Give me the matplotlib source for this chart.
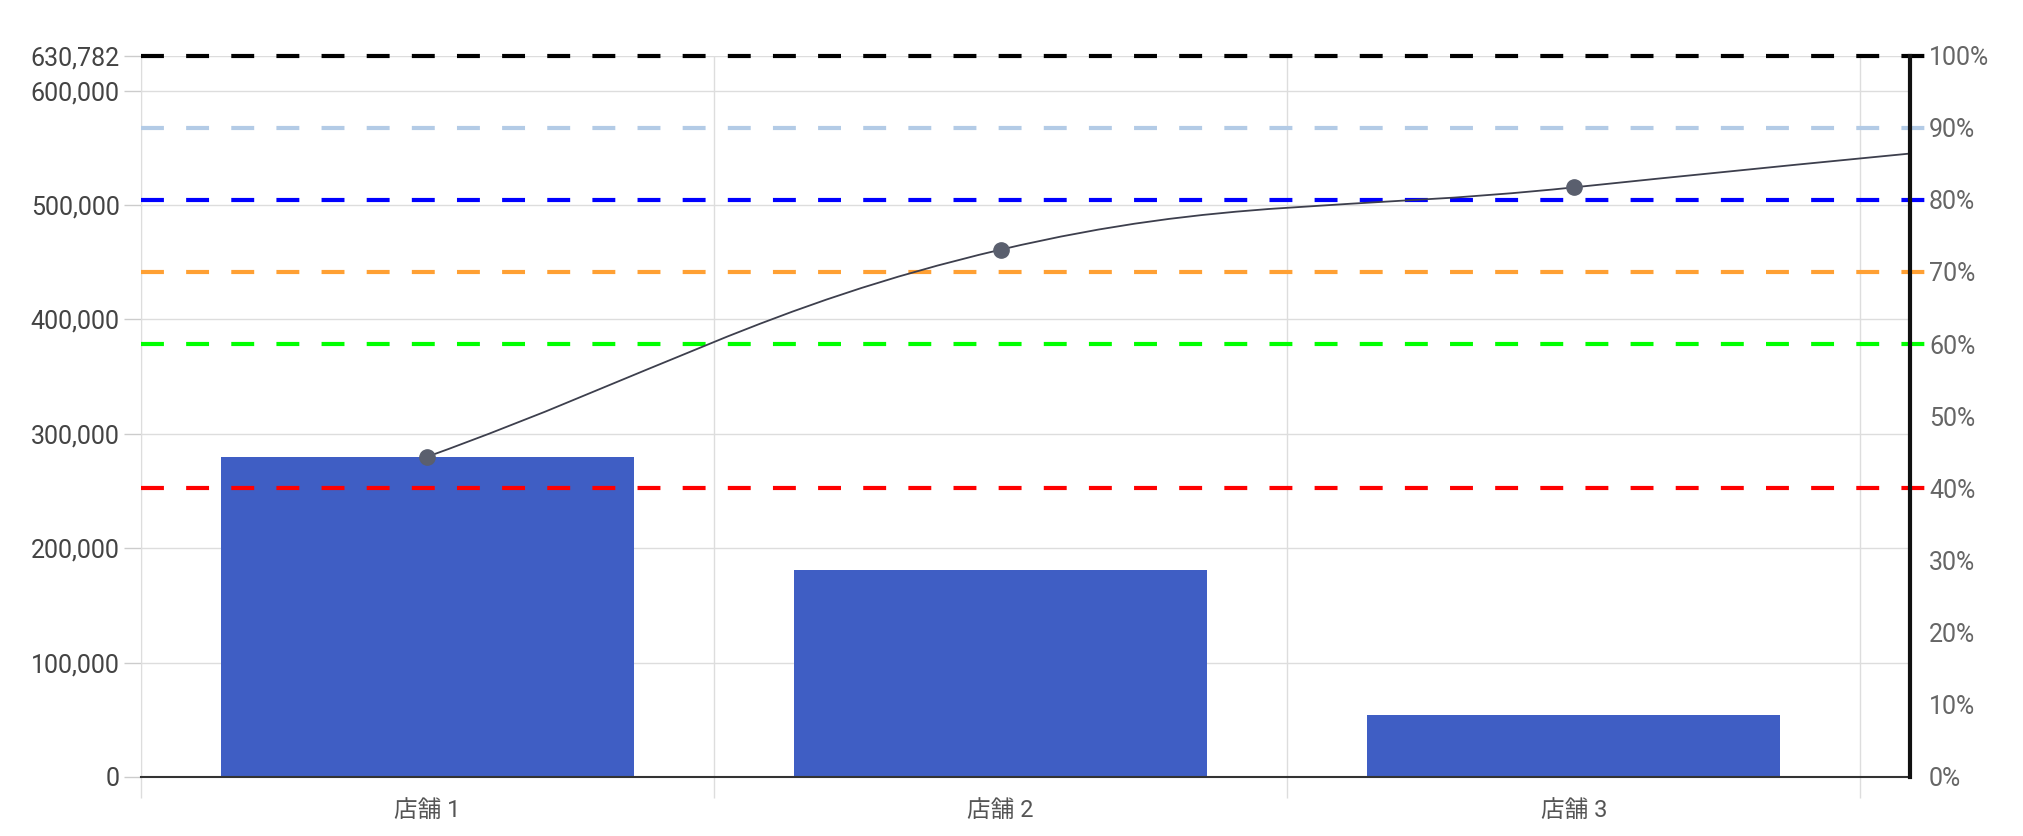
import matplotlib
matplotlib.use("Agg")
import matplotlib.pyplot as plt
from matplotlib.path import Path
from matplotlib.patches import PathPatch
from matplotlib.ticker import FuncFormatter, FixedLocator
import numpy as np

# datos
tiendas = ["店舗 1", "店舗 2", "店舗 3", "店舗 4"]
ventas = [280000, 181000, 54500, 50000]   # el 4o queda fuera de la vista
total = 630782
umbrales = [0.4, 0.6, 0.7, 0.8, 0.9, 1.0]
colores_umbral = ["#ff0000", "#00ff00", "#ffa033", "#0000ff", "#b3cbe6", "#000000"]
ticks_izq = [0, 100000, 200000, 300000, 400000, 500000, 600000, 630782]
ticks_der = [0, 0.1, 0.2, 0.3, 0.4, 0.5, 0.6, 0.7, 0.8, 0.9, 1.0]

plt.rcParams["font.family"] = ["Roboto", "Noto Sans CJK JP", "DejaVu Sans"]
plt.rcParams["lines.scale_dashes"] = False

fig = plt.figure(figsize=(20.24, 8.36), dpi=100)
ax = fig.add_axes([0.0695, 0.0706, 0.874, 0.863])

x = np.arange(len(tiendas))
xmax = 2.586
ax.set_xlim(-0.5, xmax)
ax.set_ylim(0, total)

# barras
ax.bar(x, ventas, width=0.72, color="#3f5ec4", zorder=2)

# lineas de umbral
for u, c in zip(umbrales, colores_umbral):
    ax.plot([-0.5, 2.613], [total * u, total * u], color=c, lw=3,
            dashes=(16.5, 16), clip_on=False, zorder=3,
            solid_capstyle="butt", dash_capstyle="butt")

# linea acumulada suavizada (spline tipo chart.js)
acum = np.cumsum(ventas)
pts = ax.transData.transform(np.column_stack([x, acum]))
t = 0.4
cp_prev, cp_next = [], []
for i in range(len(pts)):
    prev = pts[i - 1] if i > 0 else pts[i]
    nxt = pts[i + 1] if i < len(pts) - 1 else pts[i]
    d01 = np.hypot(*(pts[i] - prev))
    d12 = np.hypot(*(nxt - pts[i]))
    s = d01 + d12 if d01 + d12 > 0 else 1
    cp_prev.append(pts[i] - t * d01 / s * (nxt - prev))
    cp_next.append(pts[i] + t * d12 / s * (nxt - prev))
verts = [pts[0]]
codes = [Path.MOVETO]
for i in range(len(pts) - 1):
    verts += [cp_next[i], cp_prev[i + 1], pts[i + 1]]
    codes += [Path.CURVE4] * 3
inv = ax.transData.inverted()
verts = inv.transform(np.array(verts))
ax.add_patch(PathPatch(Path(verts, codes), fill=False, edgecolor="#3d3f4d",
                       lw=1.3, zorder=4))
ax.plot(x, acum, "o", ms=11, color="#5a5f6e", zorder=5)

# ejes
ax.yaxis.set_major_locator(FixedLocator(ticks_izq))
ax.yaxis.set_major_formatter(FuncFormatter(lambda v, p: f"{v:,.0f}"))
ax.tick_params(axis="y", length=12, width=1, color="#cccccc", pad=3,
               labelsize=18, labelcolor="#444444")
ax.grid(axis="y", color="#dddddd", lw=1, zorder=0)

ax.set_xticks(x[:3])
ax.set_xticklabels(tiendas[:3])
ax.set_xticks([-0.5, 0.5, 1.5, 2.5], minor=True)
ax.tick_params(axis="x", which="major", length=0, pad=16, labelsize=17,
               labelcolor="#555555")
ax.tick_params(axis="x", which="minor", length=15, width=1, color="#dddddd")
ax.grid(axis="x", which="minor", color="#dddddd", lw=1, zorder=0)

ax.spines["top"].set_visible(False)
ax.spines["left"].set_color("#dddddd")
ax.spines["bottom"].set_color("#333333")
ax.spines["bottom"].set_linewidth(1.5)
ax.spines["right"].set_visible(False)

ax2 = ax.twinx()
ax2.set_ylim(0, 1)
ax2.yaxis.set_major_locator(FixedLocator(ticks_der))
ax2.yaxis.set_major_formatter(FuncFormatter(lambda v, p: f"{v*100:.0f}%"))
ax2.tick_params(axis="y", length=0, pad=14, labelsize=18, labelcolor="#666666")
for s in ["top", "left", "bottom"]:
    ax2.spines[s].set_visible(False)
ax2.spines["right"].set_color("#111111")
ax2.spines["right"].set_linewidth(3)

plt.savefig("out.png", dpi=100)
